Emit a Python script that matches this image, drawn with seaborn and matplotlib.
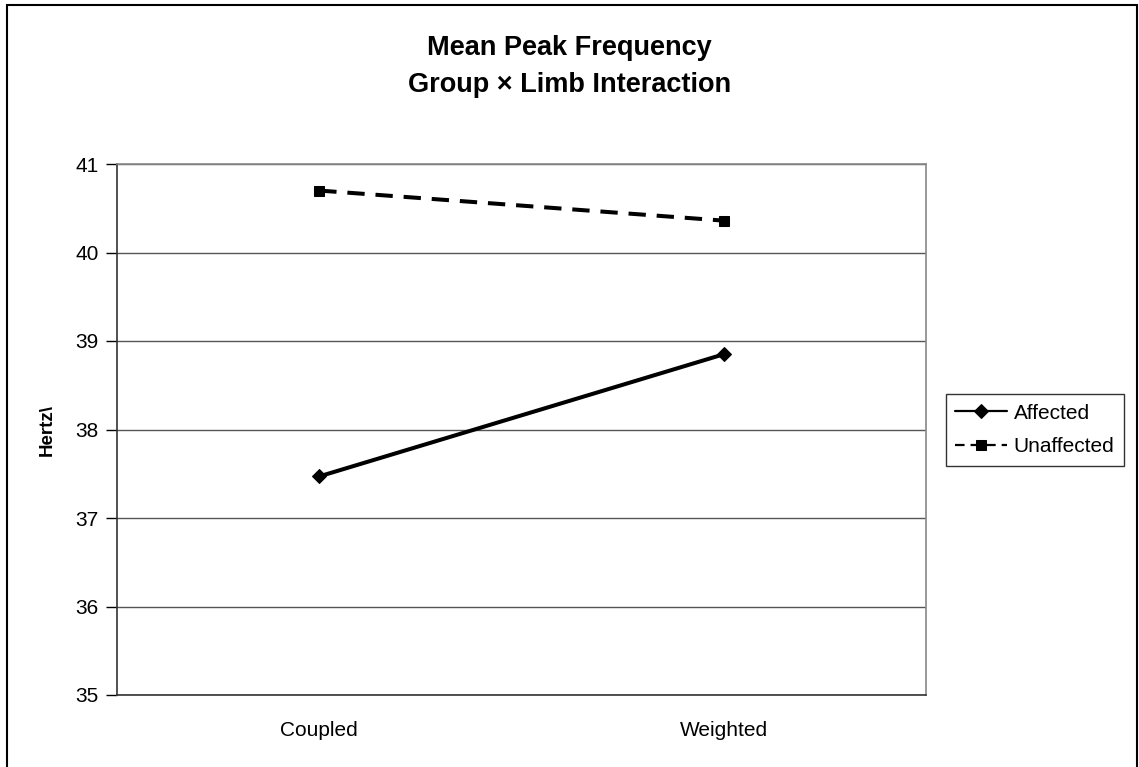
import matplotlib
matplotlib.use("Agg")
import matplotlib.pyplot as plt
import seaborn as sns
import pandas as pd
from matplotlib.patches import Rectangle

# Data
conditions = ["Coupled", "Weighted"]
groups = ["Affected", "Unaffected"]
affected = [37.47, 38.85]
unaffected = [40.70, 40.36]
yticks = [35, 36, 37, 38, 39, 40, 41]

df = pd.DataFrame({
    "Condition": conditions * 2,
    "Group": [groups[0]] * 2 + [groups[1]] * 2,
    "Hertz": affected + unaffected,
})

sns.set_style("white")
plt.rcParams["font.family"] = ["Liberation Sans", "DejaVu Sans"]
plt.rcParams["text.color"] = "black"
plt.rcParams["axes.labelcolor"] = "black"
plt.rcParams["xtick.color"] = "black"
plt.rcParams["ytick.color"] = "black"

fig = plt.figure(figsize=(11.39, 7.67), dpi=100)
ax = fig.add_axes([117 / 1139, 1 - 695 / 767, (926 - 117) / 1139, (695 - 164) / 767])

sns.lineplot(
    data=df, x="Condition", y="Hertz", hue="Group", style="Group",
    palette={"Affected": "black", "Unaffected": "black"},
    markers={"Affected": "D", "Unaffected": "s"},
    dashes={"Affected": "", "Unaffected": (4.3, 2.7)},
    linewidth=2.9, markersize=7.5, markeredgecolor="black",
    ax=ax, legend=True, sort=False,
)

ax.set_xlim(-0.5, 1.5)
ax.set_ylim(35, 41)
ax.set_yticks(yticks)
ax.set_yticklabels([str(t) for t in yticks], fontsize=15)
ax.set_xticks([0, 1])
ax.set_xticklabels(conditions, fontsize=15)
ax.set_xticks([-0.5, 0.5, 1.5], minor=True)
ax.tick_params(axis="x", which="major", length=0, pad=19)
ax.tick_params(axis="x", which="minor", length=5, width=1, direction="out", color="black")
ax.tick_params(axis="y", length=8, width=1, direction="out", color="black", pad=5, left=True)
ax.yaxis.grid(True, color="#555555", linewidth=1)
ax.set_axisbelow(True)
ax.set_xlabel("")
ax.set_ylabel("Hertz\\", fontsize=13.5, fontweight="bold", labelpad=14)

for side in ["top", "right"]:
    ax.spines[side].set_color("#888888")
    ax.spines[side].set_linewidth(1.2)
for side in ["left", "bottom"]:
    ax.spines[side].set_color("#333333")
    ax.spines[side].set_linewidth(1.2)

handles, labels = ax.get_legend_handles_labels()
leg = ax.legend(
    handles, labels, loc="center left", bbox_to_anchor=(946 / 1139, 1 - 430 / 767),
    bbox_transform=fig.transFigure, fontsize=15, frameon=True, fancybox=False,
    edgecolor="black", handlelength=2.5, handletextpad=0.3, borderpad=0.45,
    labelspacing=0.7, borderaxespad=0,
)
leg.get_frame().set_linewidth(1.0)
for line in leg.get_lines():
    line.set_linewidth(1.6)

fig.text(0.5, 1 - 48 / 767, "Mean Peak Frequency", ha="center", va="center",
         fontsize=19.5, fontweight="bold")
fig.text(0.5, 1 - 85 / 767, "Group \u00d7 Limb Interaction", ha="center", va="center",
         fontsize=19.5, fontweight="bold")

fig.patches.append(Rectangle((7 / 1139, -0.01), (1137 - 7) / 1139, 1 - 5 / 767 + 0.01,
                             transform=fig.transFigure, fill=False,
                             edgecolor="black", linewidth=1.5))

fig.savefig("out.png", dpi=100)
